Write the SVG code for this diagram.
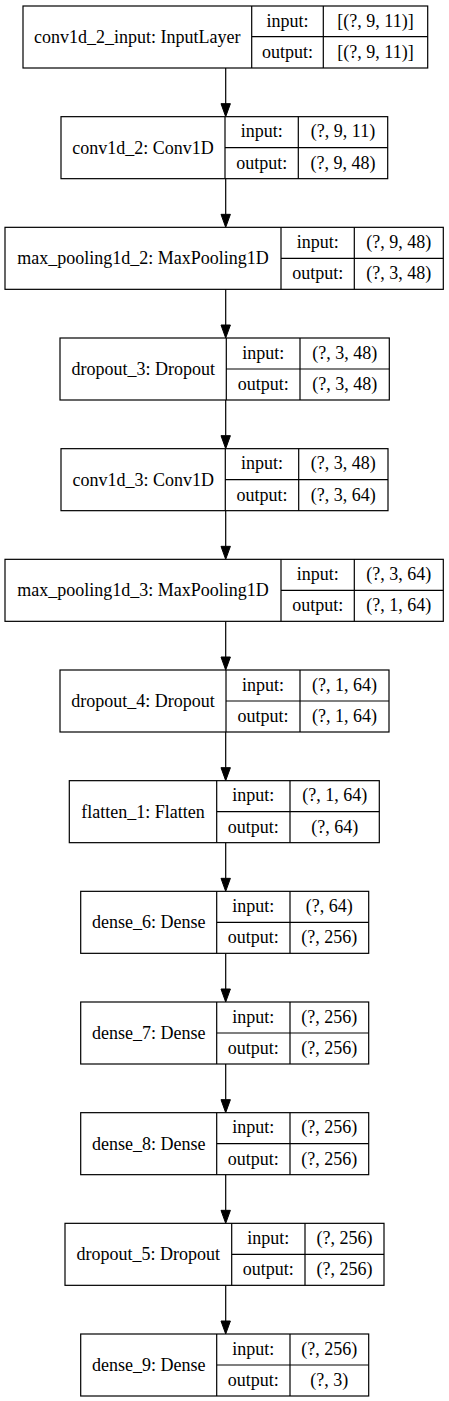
<svg xmlns="http://www.w3.org/2000/svg" width="449" height="1401" viewBox="0 0 449 1401">
<style>
.box{fill:#fff;stroke:#000;stroke-width:1.2}
.ln{fill:none;stroke:#000;stroke-width:1.2}
text{font-family:"Liberation Serif","Times New Roman",serif;font-size:18px;fill:#000;text-anchor:middle}
.edge{stroke:#000;stroke-width:1.2;fill:none}
.head{fill:#000;stroke:#000;stroke-width:1}
</style>
<rect width="449" height="1401" fill="#fff"/>
<g id="connectors">
<line class="edge" x1="225.7" y1="68" x2="225.7" y2="104"/><polygon class="head" points="221,103.67 230.4,103.67 225.7,116.67"/>
<line class="edge" x1="225.7" y1="178.67" x2="225.7" y2="214.5"/><polygon class="head" points="221,214.33 230.4,214.33 225.7,227.33"/>
<line class="edge" x1="225.7" y1="289.33" x2="225.7" y2="325.2"/><polygon class="head" points="221,325 230.4,325 225.7,338"/>
<line class="edge" x1="225.7" y1="400" x2="225.7" y2="435.8"/><polygon class="head" points="221,435.67 230.4,435.67 225.7,448.67"/>
<line class="edge" x1="225.7" y1="510.67" x2="225.7" y2="546.5"/><polygon class="head" points="221,546.33 230.4,546.33 225.7,559.33"/>
<line class="edge" x1="225.7" y1="621.33" x2="225.7" y2="657.2"/><polygon class="head" points="221,657 230.4,657 225.7,670"/>
<line class="edge" x1="225.7" y1="732" x2="225.7" y2="767.8"/><polygon class="head" points="221,767.67 230.4,767.67 225.7,780.67"/>
<line class="edge" x1="225.7" y1="842.67" x2="225.7" y2="878.5"/><polygon class="head" points="221,878.33 230.4,878.33 225.7,891.33"/>
<line class="edge" x1="225.7" y1="953.33" x2="225.7" y2="989.2"/><polygon class="head" points="221,989 230.4,989 225.7,1002"/>
<line class="edge" x1="225.7" y1="1064" x2="225.7" y2="1099.8"/><polygon class="head" points="221,1099.67 230.4,1099.67 225.7,1112.67"/>
<line class="edge" x1="225.7" y1="1174.67" x2="225.7" y2="1210.5"/><polygon class="head" points="221,1210.33 230.4,1210.33 225.7,1223.33"/>
<line class="edge" x1="225.7" y1="1285.33" x2="225.7" y2="1321.2"/><polygon class="head" points="221,1321 230.4,1321 225.7,1334"/>
</g>
<g id="node_conv1d_2_input">
<rect class="box" x="23" y="6" width="404.7" height="62"/>
<path class="ln" d="M251.7,6V68M323.3,6V68M251.7,36.7H427.7"/>
<text x="137.3" y="43">conv1d_2_input: InputLayer</text>
<text x="287.5" y="26.5">input:</text><text x="375.5" y="26.5">[(?, 9, 11)]</text>
<text x="287.5" y="58">output:</text><text x="375.5" y="58">[(?, 9, 11)]</text>
</g>
<g id="node_conv1d_2">
<rect class="box" x="61" y="116.67" width="326.7" height="62"/>
<path class="ln" d="M225,116.67V178.67M298.3,116.67V178.67M225,147.67H387.7"/>
<text x="143" y="153.67">conv1d_2: Conv1D</text>
<text x="261.7" y="137.17">input:</text><text x="343" y="137.17">(?, 9, 11)</text>
<text x="261.7" y="168.67">output:</text><text x="343" y="168.67">(?, 9, 48)</text>
</g>
<g id="node_max_pooling1d_2">
<rect class="box" x="5" y="227.33" width="438.3" height="62"/>
<path class="ln" d="M281,227.33V289.33M354.3,227.33V289.33M281,258.33H443.3"/>
<text x="143" y="264.33">max_pooling1d_2: MaxPooling1D</text>
<text x="317.7" y="247.83">input:</text><text x="398.8" y="247.83">(?, 9, 48)</text>
<text x="317.7" y="279.33">output:</text><text x="398.8" y="279.33">(?, 3, 48)</text>
</g>
<g id="node_dropout_3">
<rect class="box" x="60" y="338" width="329.3" height="62"/>
<path class="ln" d="M226.3,338V400M300,338V400M226.3,369H389.3"/>
<text x="143.2" y="375">dropout_3: Dropout</text>
<text x="263.2" y="358.5">input:</text><text x="344.7" y="358.5">(?, 3, 48)</text>
<text x="263.2" y="390">output:</text><text x="344.7" y="390">(?, 3, 48)</text>
</g>
<g id="node_conv1d_3">
<rect class="box" x="61" y="448.67" width="327" height="62"/>
<path class="ln" d="M225.3,448.67V510.67M298.7,448.67V510.67M225.3,479.67H388"/>
<text x="143.2" y="485.67">conv1d_3: Conv1D</text>
<text x="262" y="469.17">input:</text><text x="343.3" y="469.17">(?, 3, 48)</text>
<text x="262" y="500.67">output:</text><text x="343.3" y="500.67">(?, 3, 64)</text>
</g>
<g id="node_max_pooling1d_3">
<rect class="box" x="5" y="559.33" width="438.3" height="62"/>
<path class="ln" d="M281,559.33V621.33M354.3,559.33V621.33M281,590.33H443.3"/>
<text x="143" y="596.33">max_pooling1d_3: MaxPooling1D</text>
<text x="317.7" y="579.83">input:</text><text x="398.8" y="579.83">(?, 3, 64)</text>
<text x="317.7" y="611.33">output:</text><text x="398.8" y="611.33">(?, 1, 64)</text>
</g>
<g id="node_dropout_4">
<rect class="box" x="60" y="670" width="329" height="62"/>
<path class="ln" d="M226,670V732M300,670V732M226,701H389"/>
<text x="143" y="707">dropout_4: Dropout</text>
<text x="263" y="690.5">input:</text><text x="344.5" y="690.5">(?, 1, 64)</text>
<text x="263" y="722">output:</text><text x="344.5" y="722">(?, 1, 64)</text>
</g>
<g id="node_flatten_1">
<rect class="box" x="69.3" y="780.67" width="310" height="62"/>
<path class="ln" d="M216.7,780.67V842.67M290,780.67V842.67M216.7,811.67H379.3"/>
<text x="143" y="817.67">flatten_1: Flatten</text>
<text x="253.3" y="801.17">input:</text><text x="334.7" y="801.17">(?, 1, 64)</text>
<text x="253.3" y="832.67">output:</text><text x="334.7" y="832.67">(?, 64)</text>
</g>
<g id="node_dense_6">
<rect class="box" x="80.7" y="891.33" width="288" height="62"/>
<path class="ln" d="M216.7,891.33V953.33M290,891.33V953.33M216.7,922.33H368.7"/>
<text x="148.7" y="928.33">dense_6: Dense</text>
<text x="253.3" y="911.83">input:</text><text x="329.3" y="911.83">(?, 64)</text>
<text x="253.3" y="943.33">output:</text><text x="329.3" y="943.33">(?, 256)</text>
</g>
<g id="node_dense_7">
<rect class="box" x="80.7" y="1002" width="288" height="62"/>
<path class="ln" d="M216.7,1002V1064M290,1002V1064M216.7,1033H368.7"/>
<text x="148.7" y="1039">dense_7: Dense</text>
<text x="253.3" y="1022.5">input:</text><text x="329.3" y="1022.5">(?, 256)</text>
<text x="253.3" y="1054">output:</text><text x="329.3" y="1054">(?, 256)</text>
</g>
<g id="node_dense_8">
<rect class="box" x="80.7" y="1112.67" width="288" height="62"/>
<path class="ln" d="M216.7,1112.67V1174.67M290,1112.67V1174.67M216.7,1143.67H368.7"/>
<text x="148.7" y="1149.67">dense_8: Dense</text>
<text x="253.3" y="1133.17">input:</text><text x="329.3" y="1133.17">(?, 256)</text>
<text x="253.3" y="1164.67">output:</text><text x="329.3" y="1164.67">(?, 256)</text>
</g>
<g id="node_dropout_5">
<rect class="box" x="65" y="1223.33" width="319" height="62"/>
<path class="ln" d="M231.7,1223.33V1285.33M305,1223.33V1285.33M231.7,1254.33H384"/>
<text x="148.3" y="1260.33">dropout_5: Dropout</text>
<text x="268.3" y="1243.83">input:</text><text x="344.5" y="1243.83">(?, 256)</text>
<text x="268.3" y="1275.33">output:</text><text x="344.5" y="1275.33">(?, 256)</text>
</g>
<g id="node_dense_9">
<rect class="box" x="80.7" y="1334" width="288" height="62"/>
<path class="ln" d="M216.7,1334V1396M290,1334V1396M216.7,1365H368.7"/>
<text x="148.7" y="1371">dense_9: Dense</text>
<text x="253.3" y="1354.5">input:</text><text x="329.3" y="1354.5">(?, 256)</text>
<text x="253.3" y="1386">output:</text><text x="329.3" y="1386">(?, 3)</text>
</g>
</svg>
